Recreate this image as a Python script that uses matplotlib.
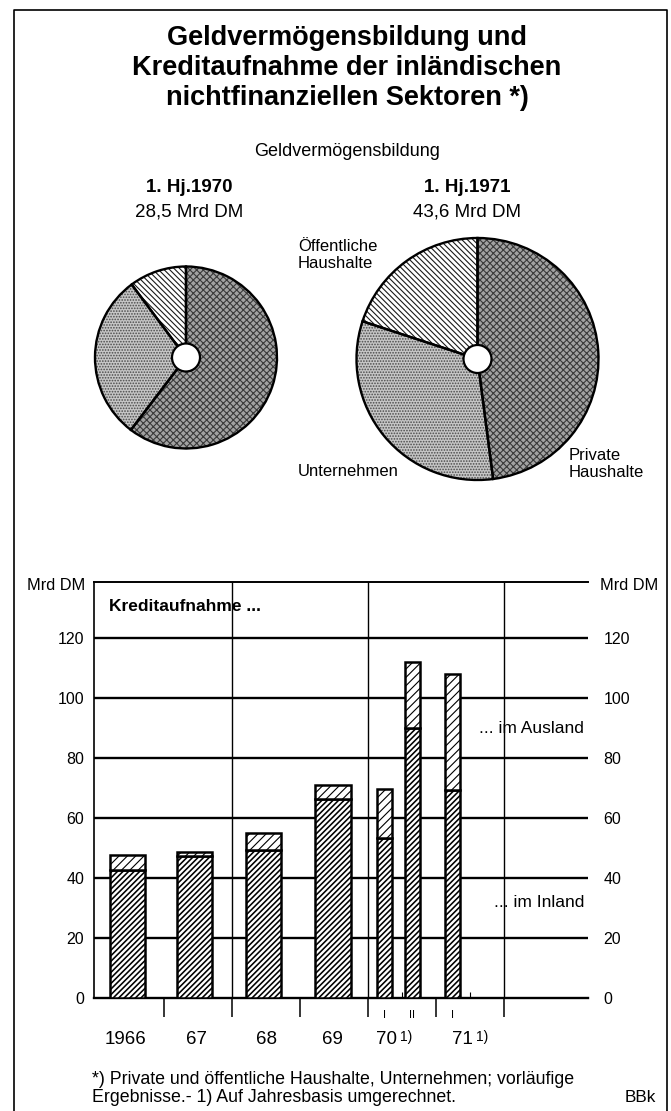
import matplotlib.pyplot as plt
from matplotlib.patches import Circle

plt.rcParams['font.family'] = ['Liberation Sans', 'DejaVu Sans']
plt.rcParams['hatch.linewidth'] = 1.0

# Geldvermoegensbildung (Mrd DM): Private Haushalte, Unternehmen, Oeffentliche Haushalte
sectors = ['Private Haushalte', 'Unternehmen', 'Öffentliche Haushalte']
geld_1970 = [17.2, 8.4, 2.9]
geld_1971 = [20.9, 14.0, 8.7]

# Kreditaufnahme (Mrd DM)
periods = ['1966', '67', '68', '69', '70 I', '70 II', '71 I']
inland = [42.7, 47.4, 49.2, 66.2, 53.2, 89.9, 69.3]
ausland = [5.0, 1.3, 5.9, 4.8, 16.5, 22.2, 38.6]
year_labels = ['1966', '67', '68', '69', '70', '71']
half_labels = ['I', 'II', 'I']

W, H = 671, 1111
fig = plt.figure(figsize=(W / 100, H / 100), dpi=100)

# background axes in pixel units (y measured from top)
bg = fig.add_axes([0, 0, 1, 1])


def Y(py):
    return H - py


def hatch_lw(patches, lw):
    for p in patches:
        if hasattr(p, 'set_hatch_linewidth'):
            p.set_hatch_linewidth(lw)


# outer frame
bg.plot([14, 14, 667, 667], [Y(1111), Y(10), Y(10), Y(1111)], color='black', lw=1.2)

title = ['Geldvermögensbildung und',
         'Kreditaufnahme der inländischen',
         'nichtfinanziellen Sektoren *)']
for i, line in enumerate(title):
    bg.text(347, Y(38 + i * 30), line, ha='center', va='center',
            fontsize=19.5, fontweight='bold')

bg.text(347, Y(152), 'Geldvermögensbildung', ha='center', va='center', fontsize=13)
bg.text(189, Y(187), '1. Hj.1970', ha='center', va='center', fontsize=13.5, fontweight='bold')
bg.text(189, Y(212), '28,5 Mrd DM', ha='center', va='center', fontsize=13.5)
bg.text(467, Y(187), '1. Hj.1971', ha='center', va='center', fontsize=13.5, fontweight='bold')
bg.text(467, Y(212), '43,6 Mrd DM', ha='center', va='center', fontsize=13.5)

fills = [dict(facecolor='#a2a2a2', edgecolor='#3a3a3a', hatch='xxxxx'),
         dict(facecolor='#c6c6c6', edgecolor='#4a4a4a', hatch='......'),
         dict(facecolor='white', edgecolor='#1a1a1a', hatch='\\\\\\\\\\\\')]

for vals, cx, cy, r in [(geld_1970, 186, 357.5, 91), (geld_1971, 477.5, 359, 121)]:
    wedges, _ = bg.pie(vals, startangle=90, counterclock=False,
                       center=(cx, Y(cy)), radius=r, wedgeprops=dict(lw=0))
    for w, f in zip(wedges, fills):
        w.set_facecolor(f['facecolor'])
        w.set_edgecolor(f['edgecolor'])
        w.set_hatch(f['hatch'])
    hatch_lw(wedges, 0.8)
    bg.pie(vals, startangle=90, counterclock=False, center=(cx, Y(cy)), radius=r,
           wedgeprops=dict(fill=False, edgecolor='black', lw=1.7))
    bg.add_patch(Circle((cx, Y(cy)), 14, facecolor='white', edgecolor='black',
                        lw=1.6, zorder=5))

bg.text(298, Y(255), 'Öffentliche\nHaushalte', ha='left', va='center',
        fontsize=12, linespacing=1.15)
bg.text(298, Y(471), 'Unternehmen', ha='left', va='center', fontsize=12)
bg.text(569, Y(464), 'Private\nHaushalte', ha='left', va='center',
        fontsize=12, linespacing=1.15)

bg.text(92, Y(1079), '*) Private und öffentliche Haushalte, Unternehmen; vorläufige',
        ha='left', va='center', fontsize=12.8)
bg.text(92, Y(1098), 'Ergebnisse.- 1) Auf Jahresbasis umgerechnet.',
        ha='left', va='center', fontsize=12.8)
bg.text(656, Y(1098), 'BBk', ha='right', va='center', fontsize=12.3)

bg.text(85, Y(586), 'Mrd DM', ha='right', va='center', fontsize=11.8)
bg.text(600, Y(586), 'Mrd DM', ha='left', va='center', fontsize=11.8)

bg.set_xlim(0, W)
bg.set_ylim(0, H)
bg.set_axis_off()

# bar chart
ax = fig.add_axes([94 / W, (H - 998) / H, (588 - 94) / W, (998 - 582) / H])
ax.set_xlim(-0.03, 7.23)
ax.set_ylim(0, 138.7)

pos = [0.46, 1.45, 2.46, 3.48, 4.24, 4.65, 5.24]
widths = [0.52, 0.52, 0.52, 0.52, 0.22, 0.22, 0.22]

b1 = ax.bar(pos, inland, widths, facecolor='white', edgecolor='black', hatch='//////',
            lw=1.8, zorder=3)
b2 = ax.bar(pos, ausland, widths, bottom=inland, facecolor='white', edgecolor='black',
            hatch='////', lw=1.8, zorder=3)
hatch_lw(b1, 1.15)
hatch_lw(b2, 0.8)

yt = [0, 20, 40, 60, 80, 100, 120]
for v in yt[1:]:
    ax.axhline(v, color='black', lw=1.7, zorder=1)
for b in [2, 4, 6]:
    ax.axvline(b, color='black', lw=1.0, zorder=1)

ax.set_yticks(yt)
ax.tick_params(axis='y', length=0, pad=7, labelsize=11.5)
ax2 = ax.twinx()
ax2.set_ylim(ax.get_ylim())
ax2.set_yticks(yt)
ax2.tick_params(axis='y', length=0, pad=11, labelsize=11.5)
for a in (ax, ax2):
    a.spines['right'].set_visible(False)
ax2.spines['left'].set_visible(False)
ax2.spines['top'].set_visible(False)
ax2.spines['bottom'].set_visible(False)
ax.spines['left'].set_linewidth(1.2)
ax.spines['top'].set_linewidth(1.4)
ax.spines['bottom'].set_linewidth(1.7)

ax.set_xticks([1, 2, 3, 4, 5, 6])
ax.set_xticklabels([])
ax.set_xticks([4.5, 5.5], minor=True)
ax.tick_params(axis='x', which='major', direction='out', length=14, width=1.1)
ax.tick_params(axis='x', which='minor', direction='in', length=4, width=0.8)

year_pos = [0.44, 1.48, 2.5, 3.47, 4.27, 5.38]
for x, lab in zip(year_pos, year_labels):
    ax.text(x, -13.7, lab, ha='center', va='center', fontsize=13.5, clip_on=False)
for x in year_pos[4:]:
    ax.text(x + 0.2, -13.0, '1)', ha='left', va='center', fontsize=10, clip_on=False)
for x, lab in zip(pos[4:], half_labels):
    ax.text(x, -5.6, lab, ha='center', va='center', fontsize=8, clip_on=False)

ax.text(0.19, 130.5, 'Kreditaufnahme ...', ha='left', va='center', fontsize=12.5,
        fontweight='bold')
ax.text(7.17, 90, '... im Ausland', ha='right', va='center', fontsize=12.5)
ax.text(7.17, 31.7, '... im Inland', ha='right', va='center', fontsize=12.5)

fig.savefig('out.png', dpi=100)
